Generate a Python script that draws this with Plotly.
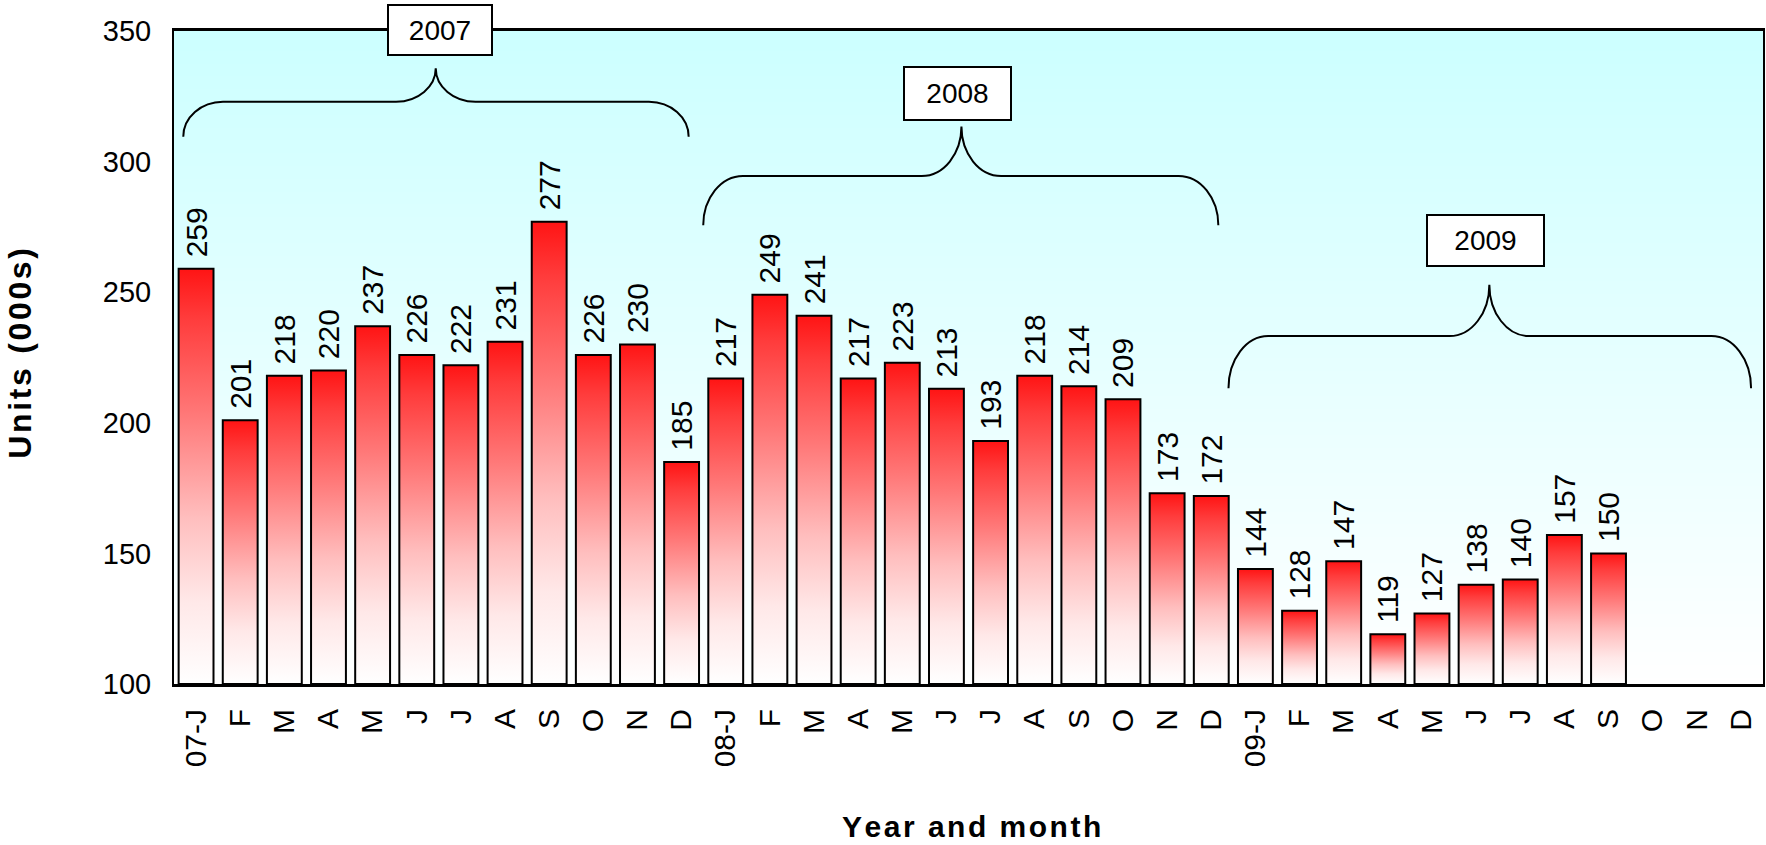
import plotly.graph_objects as go

# ---------------- data ----------------
tick_labels = ["07-J", "F", "M", "A", "M", "J", "J", "A", "S", "O", "N", "D",
               "08-J", "F", "M", "A", "M", "J", "J", "A", "S", "O", "N", "D",
               "09-J", "F", "M", "A", "M", "J", "J", "A", "S", "O", "N", "D"]
values_2007 = [259, 201, 218, 220, 237, 226, 222, 231, 277, 226, 230, 185]
values_2008 = [217, 249, 241, 217, 223, 213, 193, 218, 214, 209, 173, 172]
values_2009 = [144, 128, 147, 119, 127, 138, 140, 157, 150]
years = ["2007", "2008", "2009"]
y_title = "Units (000s)"
x_title = "Year and month"

values = values_2007 + values_2008 + values_2009
Y_MIN, Y_MAX = 100, 350
BAR_W = 0.79
FONT = "Liberation Sans, Arial, sans-serif"
HAIR = "\u200a"

fig = go.Figure()

# plot-area background gradient (cyan top -> white bottom)
fig.add_trace(go.Heatmap(
    x=[-1, 36.5], y=[Y_MIN, Y_MAX], z=[[0, 0], [1, 1]],
    colorscale=[[0, "#ffffff"], [1, "#ccffff"]], zsmooth="best",
    showscale=False, hoverinfo="skip"))

# value labels (transparent bars carry the text)
fig.add_trace(go.Bar(
    x=list(range(len(values))), y=values, width=BAR_W,
    marker=dict(color="rgba(0,0,0,0)", line=dict(width=0)),
    text=["\u00a0" + str(v) for v in values], textposition="outside",
    textangle=-90, constraintext="none", cliponaxis=False,
    textfont=dict(family=FONT, size=30, color="black"),
    hoverinfo="skip", showlegend=False))

# gradient bars (white at base -> red at top)
bar_scale = [[0, "#ffffff"], [0.2, "#ffe8e8"], [0.4, "#ffbebe"],
             [0.65, "#ff7878"], [0.88, "#ff3c3c"], [1, "#ff1414"]]
for i, v in enumerate(values):
    x0, x1 = i - BAR_W / 2, i + BAR_W / 2
    fig.add_trace(go.Scatter(
        x=[x0, x0, x1, x1, x0], y=[Y_MIN, v, v, Y_MIN, Y_MIN],
        mode="lines", fill="toself",
        fillgradient=dict(type="vertical", colorscale=bar_scale),
        line=dict(color="black", width=2),
        hoverinfo="skip", showlegend=False))

# year braces: (left, right, centre, tip y, horizontal y, peak y, box x, box y, box w, box h)
braces = [
    (-0.29, 11.16, 5.43, 309.5, 322.9, 335.7, 5.52, 350.4, 100, 46),
    (11.49, 23.16, 17.34, 275.6, 294.5, 313.4, 17.26, 325.9, 103, 49),
    (23.39, 35.23, 29.30, 213.2, 233.2, 252.9, 29.22, 269.9, 113, 47),
]
K = 0.5523
RX = 0.9
shapes = []
annotations = []
for yr, (xl, xr, xc, yt, yh, yp, bx, by, bw, bh) in zip(years, braces):
    p = (f"M {xl},{yt} "
         f"C {xl},{yt + K * (yh - yt)} {xl + RX * (1 - K)},{yh} {xl + RX},{yh} "
         f"L {xc - RX},{yh} "
         f"C {xc - RX * (1 - K)},{yh} {xc},{yp - K * (yp - yh)} {xc},{yp} "
         f"C {xc},{yp - K * (yp - yh)} {xc + RX * (1 - K)},{yh} {xc + RX},{yh} "
         f"L {xr - RX},{yh} "
         f"C {xr - RX * (1 - K)},{yh} {xr},{yt + K * (yh - yt)} {xr},{yt}")
    shapes.append(dict(type="path", path=p, xref="x", yref="y",
                       line=dict(color="black", width=2)))
    annotations.append(dict(
        x=bx, y=(by - Y_MIN) / (Y_MAX - Y_MIN), xref="x", yref="paper",
        text=yr, showarrow=False,
        font=dict(family=FONT, size=28, color="black"),
        bgcolor="white", bordercolor="black", borderwidth=2, borderpad=1,
        width=bw, height=bh, xanchor="center", yanchor="middle"))

annotations.append(dict(
    x=-0.097, y=0.507, xref="paper", yref="paper",
    text="<b>" + HAIR.join(y_title) + "</b>",
    textangle=-90, showarrow=False, xanchor="center", yanchor="middle",
    font=dict(family=FONT, size=32, color="black")))
annotations.append(dict(
    x=0.502, y=-0.2175, xref="paper", yref="paper",
    text="<b>" + HAIR.join(x_title) + "</b>",
    showarrow=False, xanchor="center", yanchor="middle",
    font=dict(family=FONT, size=30, color="black")))

fig.update_layout(
    width=1766, height=845,
    margin=dict(l=174, r=1, t=31, b=161),
    paper_bgcolor="white", plot_bgcolor="white",
    showlegend=False, barmode="overlay",
    shapes=shapes, annotations=annotations,
    xaxis=dict(range=[-0.5, 35.5], tickvals=list(range(36)), ticktext=tick_labels,
               tickangle=-90, showgrid=False, zeroline=False,
               showline=True, linecolor="black", linewidth=3, mirror=True,
               ticks="", ticklabelstandoff=10,
               tickfont=dict(family=FONT, size=30, color="black")),
    yaxis=dict(range=[Y_MIN, Y_MAX], dtick=50, showgrid=False, zeroline=False,
               showline=True, linecolor="black", linewidth=2, mirror=True,
               ticks="", ticklabelstandoff=15,
               tickfont=dict(family=FONT, size=29, color="black")),
)

fig.write_html("out.html", config={"displayModeBar": False},
               post_script="document.body.style.margin='0';document.body.style.overflow='hidden';")
